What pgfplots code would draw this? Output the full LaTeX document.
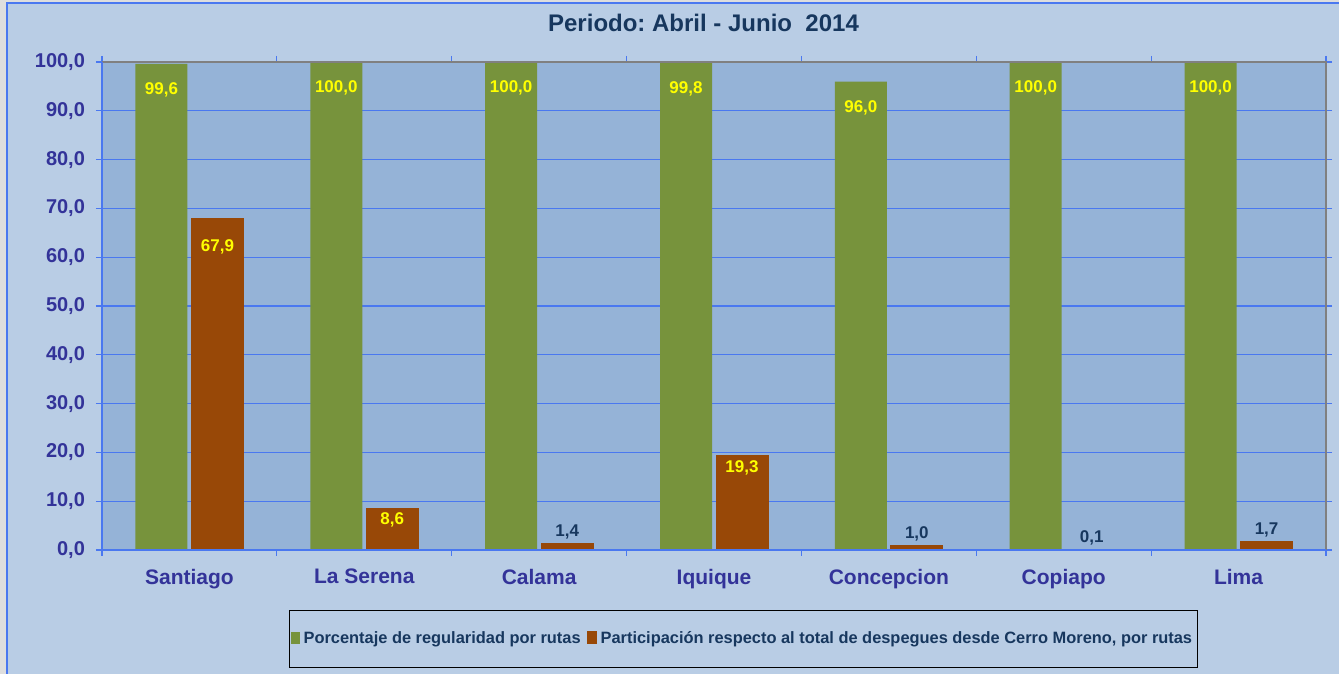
\documentclass[border=0pt]{standalone}
\usepackage{pgfplots}
\pgfplotsset{compat=1.18}
\usepackage{fontspec}
\setmainfont{Liberation Sans}
\frenchspacing

\definecolor{outerbg}{HTML}{B9CDE5}
\definecolor{plotbg}{HTML}{95B3D7}
\definecolor{gridblue}{HTML}{4A78F0}
\definecolor{barg}{HTML}{77933C}
\definecolor{baro}{HTML}{984807}
\definecolor{ticktxt}{HTML}{333399}
\definecolor{navy}{HTML}{17375E}
\definecolor{lblyel}{HTML}{FFFF00}

\begin{document}
\begin{tikzpicture}[x=1pt,y=1pt]
\useasboundingbox (0,0) rectangle (669.5,337);
\fill[black!13] (0,0) rectangle (669.5,337);
\fill[outerbg] (3.5,0) rectangle (669.5,335.5);
\draw[gridblue, line width=0.6pt] (3.5,0) -- (3.5,335.5) -- (669.5,335.5);
\node[font=\bfseries\fontsize{12}{14}\selectfont, text=navy] at (351.75,325.5) {Periodo: Abril - Junio\ \ 2014};

\begin{axis}[
  name=ax,
  at={(51pt,62pt)}, anchor=south west,
  scale only axis, width=612pt, height=244pt,
  xmin=-0.5, xmax=6.5, ymin=0, ymax=100,
  axis background/.style={fill=plotbg},
  axis line style={draw=none},
  ybar, bar width=26pt,
  xtick={0,...,6},
  xticklabels={Santiago,La Serena,Calama,Iquique,Concepcion,Copiapo,Lima},
  major x tick style={draw=none},
  minor xtick={-0.5,0.5,...,6.5},
  minor x tick style={gridblue, line width=0.6pt},
  minor tick length=3pt,
  ytick={0,10,...,100},
  ytick style={gridblue, line width=0.6pt},
  major tick length=3pt,
  tick align=outside,
  ymajorgrids,
  major grid style={gridblue, line width=0.6pt},
  /pgf/number format/assume math mode=true,
  yticklabel={\pgfmathprintnumber[fixed,fixed zerofill,precision=1,use comma]{\tick}},
  yticklabel style={font=\bfseries\fontsize{10}{12}\selectfont, text=ticktxt, xshift=-2pt},
  xticklabel style={font=\bfseries\fontsize{10.5}{12}\selectfont, text=ticktxt, yshift=-3pt},
  legend style={at={(0.524,-0.182)}, anchor=center, draw=black, fill=none,
    font=\bfseries\fontsize{8.2}{10}\selectfont, text=navy,
    inner xsep=0.5pt, inner ysep=8.5pt,
    /tikz/every even column/.append style={column sep=1pt}},
  legend columns=2,
  every node near coord/.append style={font=\bfseries\fontsize{8.5}{10}\selectfont},
  nodes near coords={\pgfmathprintnumber[fixed,fixed zerofill,precision=1,use comma]{\pgfplotspointmeta}},
  clip=false,
]
\addplot[fill=barg, draw=none, bar shift=-14pt,
  every node near coord/.append style={text=lblyel, anchor=center, yshift=-13pt},
  legend image code/.code={\fill[barg] (0pt,-2.5pt) rectangle (4.5pt,3.5pt);}]
  coordinates {(0,99.6) (1,100.0) (2,100.0) (3,99.8) (4,96.0) (5,100.0) (6,100.0)};
\addlegendentry{Porcentaje de regularidad por rutas}
\addplot[fill=baro, draw=baro, line width=0.5pt, bar shift=14pt,
  every node near coord/.append style={text=lblyel, anchor=center, yshift=-14pt},
  legend image code/.code={\fill[baro] (0pt,-2.5pt) rectangle (4.5pt,3.5pt);}]
  coordinates {(0,67.9)};
\addlegendentry{Participación respecto al total de despegues desde Cerro Moreno, por rutas}
\addplot[fill=baro, draw=baro, line width=0.5pt, bar shift=14pt, forget plot,
  every node near coord/.append style={text=lblyel, anchor=center, yshift=-6pt}]
  coordinates {(1,8.6) (3,19.3)};
\addplot[fill=baro, draw=baro, line width=0.5pt, bar shift=14pt, forget plot,
  every node near coord/.append style={text=navy, anchor=south, yshift=-1.5pt}]
  coordinates {(2,1.4) (4,1.0) (5,0.1) (6,1.7)};
\end{axis}
\draw[black!50, line width=0.8pt] (ax.north west) -- (ax.north east) -- (ax.south east);
\draw[gridblue, line width=0.8pt] (ax.north west) -- (ax.south west) -- (ax.south east);
\end{tikzpicture}
\end{document}
